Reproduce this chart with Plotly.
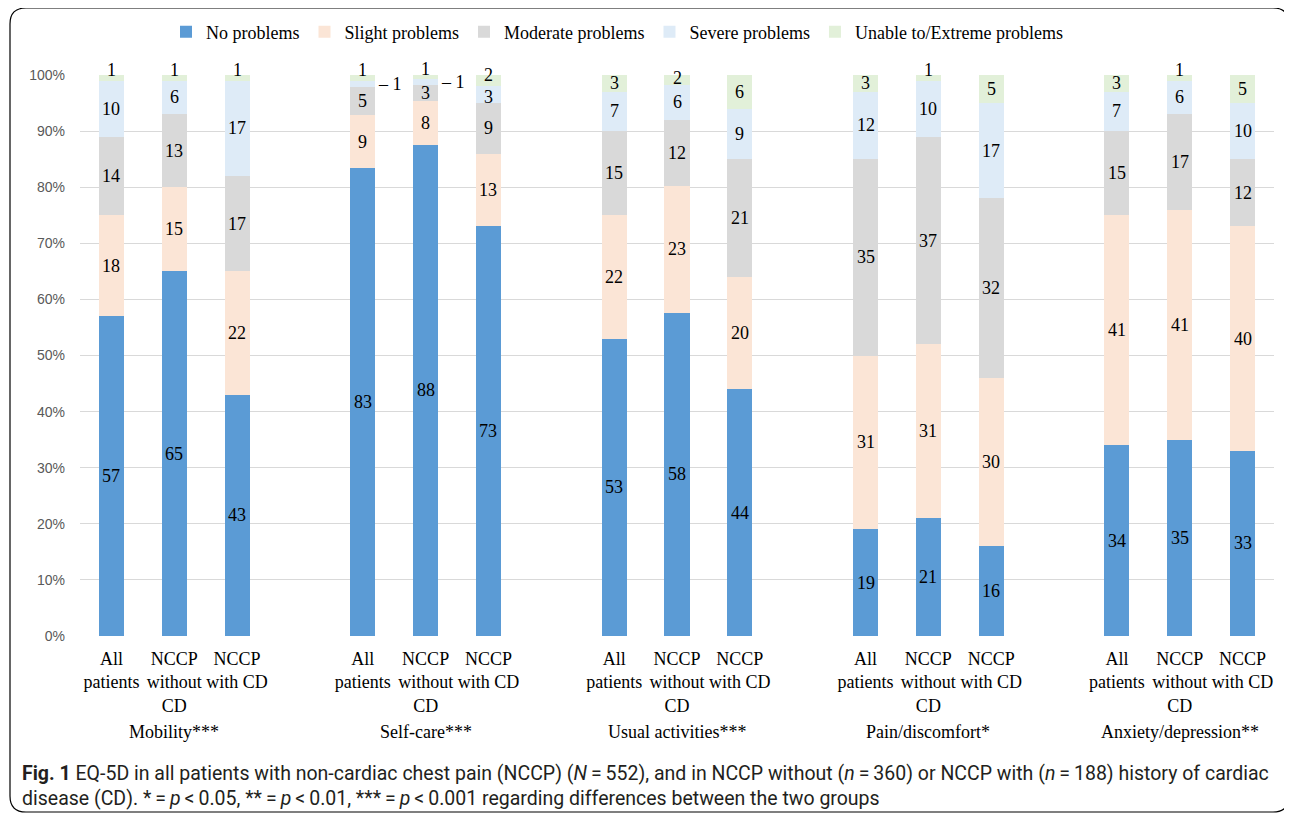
import plotly.graph_objects as go

groups = ["Mobility***", "Self-care***", "Usual activities***", "Pain/discomfort*", "Anxiety/depression**"]
bar_labels = ["All<br>patients", "NCCP<br>without<br>CD", "NCCP<br>with CD"]
series_names = ["No problems", "Slight problems", "Moderate problems", "Severe problems", "Unable to/Extreme problems"]
colors = ["#5B9BD5", "#FBE5D6", "#D9D9D9", "#DEEBF7", "#E2F0D9"]

# order: Mobility(All, without, with), Self-care(...), Usual(...), Pain(...), Anxiety(...)
no_problems = [57, 65, 43, 83.4, 87.6, 73, 53, 57.6, 44, 19, 21, 16, 34, 35, 33]
slight = [18, 15, 22, 9.4, 7.8, 13, 22, 22.6, 20, 31, 31, 30, 41, 41, 40]
moderate = [14, 13, 17, 5.1, 2.9, 9, 15, 11.8, 21, 35, 37, 32, 15, 17, 12]
severe = [10, 6, 17, 1.1, 0.9, 3, 7, 6.2, 9, 12, 10, 17, 7, 6, 10]
unable = [1, 1, 1, 1.0, 0.8, 2, 3, 1.8, 6, 3, 1, 5, 3, 1, 5]

series = [no_problems, slight, moderate, severe, unable]

xpos = [4 * g + j for g in range(len(groups)) for j in range(3)]
ticktext = bar_labels * len(groups)

OFF = 8  # page body margin
W, H = 1292 - OFF, 816 - OFF
L, T = 80 - OFF, 75 - OFF
R = W - (1274 - OFF)
B = H - (636 - OFF)
pw, ph = W - L - R, H - T - B

def px_x(px):
    return (px - OFF - L) / pw

def px_y(py):
    return (H - B - (py - OFF)) / ph

serif = "Liberation Serif, Times New Roman, serif"

fig = go.Figure()
for name, vals, col in zip(series_names, series, colors):
    fig.add_trace(go.Bar(x=xpos, y=vals, name=name, marker=dict(color=col, line=dict(width=0)),
                         width=0.4))

label_font = dict(family=serif, size=18, color="#000000")
annotations = []
n_s = len(series)
for i, x in enumerate(xpos):
    cum = 0
    for s, vals in enumerate(series):
        v = vals[i]
        mid = cum + v / 2
        cum += v
        txt = f"{round(v):d}"
        is_top = s == n_s - 1
        below_small_top = (s == n_s - 2) and (1.5 <= series[n_s - 1][i] < 2.5) and v < 4
        if v < 1.5 and not is_top:
            annotations.append(dict(x=x + 0.2, y=mid, xref="x", yref="y", text="\u2013 " + txt,
                                    showarrow=False, xanchor="left", xshift=1, font=label_font))
        elif v < 1.5 and is_top:
            annotations.append(dict(x=x, y=mid, xref="x", yref="y", text=txt, showarrow=False,
                                    yshift=8, font=label_font))
        else:
            shift = 0
            if is_top and v < 2.5:
                shift = 6 if series[n_s - 2][i] < 4 else 2
            if below_small_top:
                shift = -2
            annotations.append(dict(x=x, y=mid, xref="x", yref="y", text=txt, showarrow=False,
                                    yshift=shift, font=label_font))

for g, name in enumerate(groups):
    annotations.append(dict(x=4 * g + 1, y=px_y(732), xref="x", yref="paper", text=name, showarrow=False,
                            yanchor="middle", font=dict(family=serif, size=18, color="#000000")))

caption = ("<b>Fig. 1</b> EQ-5D in all patients with non-cardiac chest pain (NCCP) (<i>N</i>\u2009=\u2009552), and in NCCP without (<i>n</i>\u2009=\u2009360) or NCCP with (<i>n</i>\u2009=\u2009188) history of cardiac"
           "<br>disease (CD). *\u2009=\u2009<i>p</i>\u2009&lt;\u20090.05, **\u2009=\u2009<i>p</i>\u2009&lt;\u20090.01, ***\u2009=\u2009<i>p</i>\u2009&lt;\u20090.001 regarding differences between the two groups")
annotations.append(dict(x=px_x(20), y=px_y(760), xref="paper", yref="paper", text=caption, showarrow=False,
                        xanchor="left", yanchor="top", align="left",
                        font=dict(family="Roboto, Noto Sans, sans-serif", size=19.5, color="#231F20")))

# rounded border
x0, x1 = px_x(10), px_x(1289)
y0, y1 = px_y(8), px_y(812)
rx, ry = 16 / pw, 16 / ph
path = (f"M {x0+rx},{y0} L {x1-rx},{y0} Q {x1},{y0} {x1},{y0-ry} L {x1},{y1+ry} Q {x1},{y1} {x1-rx},{y1} "
        f"L {x0+rx},{y1} Q {x0},{y1} {x0},{y1+ry} L {x0},{y0-ry} Q {x0},{y0} {x0+rx},{y0} Z")

fig.update_layout(
    width=W, height=H,
    margin=dict(l=L, r=R, t=T, b=B, pad=0, autoexpand=False),
    barmode="stack",
    plot_bgcolor="white", paper_bgcolor="white",
    showlegend=True,
    legend=dict(orientation="h", x=px_x(166), xanchor="left", y=px_y(32), yanchor="middle",
                font=dict(family=serif, size=18, color="#000000"),
                itemwidth=30, traceorder="normal"),
    xaxis=dict(range=[-0.5, 18.5], tickmode="array", tickvals=xpos, ticktext=ticktext,
               showgrid=False, zeroline=False, showline=False, ticks="",
               ticklabelstandoff=10,
               tickfont=dict(family=serif, size=18, color="#000000")),
    yaxis=dict(range=[0, 100], tickmode="array", tickvals=list(range(0, 101, 10)),
               ticktext=[f"{v}%" for v in range(0, 101, 10)],
               showgrid=True, gridcolor="#D9D9D9", gridwidth=1.3, zeroline=False, showline=False,
               ticklabelstandoff=14,
               tickfont=dict(family="Liberation Sans, Arial, sans-serif", size=14, color="#595959")),
    annotations=annotations,
    shapes=[dict(type="path", xref="paper", yref="paper", path=path, line=dict(color="#000000", width=1.2))],
)

fig.write_html("out.html")
